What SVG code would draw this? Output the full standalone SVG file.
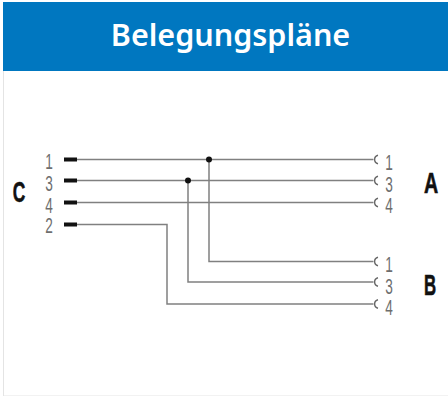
<svg xmlns="http://www.w3.org/2000/svg" width="448" height="396" viewBox="0 0 448 396">
<style>
.w{fill:none;stroke:#808080;stroke-width:1.5}
.p{stroke:#111;stroke-width:4}
.s{fill:none;stroke:#666;stroke-width:1.4}
.d{fill:#111}
.n{font-family:"Liberation Sans",sans-serif;font-size:22px;fill:#6e6e6e;text-anchor:middle}
.l{font-family:"Liberation Sans",sans-serif;font-size:29px;font-weight:bold;fill:#111;stroke:#111;stroke-width:.6;text-anchor:middle}
</style>
<rect width="448" height="396" fill="#fff"/>
<path d="M3.500 71V396H448" fill="none" stroke="#e4e4e4" stroke-width="1"/>
<g id="header">
<rect x="3" y="2" width="445" height="69" fill="#0077c0"/>
<text x="230.500" y="46" font-family="'Noto Sans',sans-serif" font-size="30.500" font-weight="600" fill="#fff" text-anchor="middle">Belegungspläne</text>
</g>
<g id="connectors">
<path class="w" d="M77 159.500H373.500"/>
<path class="w" d="M77 180.500H373.500"/>
<path class="w" d="M77 202.500H373.500"/>
<path class="w" d="M77 224.500H167V304H373.500"/>
<path class="w" d="M209 159.500V261.500H373.500"/>
<path class="w" d="M188 180.500V282H373.500"/>
<circle class="d" cx="209" cy="159.500" r="3"/>
<circle class="d" cx="188" cy="180.500" r="3"/>
</g>
<g id="C">
<text class="l" transform="translate(19 201.500) scale(.6 1)">C</text>
<text class="n" transform="translate(49 169) scale(.62 1)">1</text>
<text class="n" transform="translate(49 191) scale(.62 1)">3</text>
<text class="n" transform="translate(49 212.500) scale(.62 1)">4</text>
<text class="n" transform="translate(49 233) scale(.62 1)">2</text>
<path class="p" d="M64 159.500H77M64 180.500H77M64 202.500H77M64 224.500H77"/>
</g>
<g id="A">
<text class="l" transform="translate(431 192.500) scale(.68 1)">A</text>
<path class="s" d="M378 155.300A4.300 4.300 0 0 0 378 163.700M378 176.300A4.300 4.300 0 0 0 378 184.700M378 198.300A4.300 4.300 0 0 0 378 206.700"/>
<text class="n" transform="translate(389 170) scale(.62 1)">1</text>
<text class="n" transform="translate(389 192) scale(.62 1)">3</text>
<text class="n" transform="translate(389 213) scale(.62 1)">4</text>
</g>
<g id="B">
<text class="l" transform="translate(430 294.500) scale(.58 1)">B</text>
<path class="s" d="M378 257.300A4.300 4.300 0 0 0 378 265.700M378 277.800A4.300 4.300 0 0 0 378 286.200M378 299.800A4.300 4.300 0 0 0 378 308.200"/>
<text class="n" transform="translate(389 272) scale(.62 1)">1</text>
<text class="n" transform="translate(389 294) scale(.62 1)">3</text>
<text class="n" transform="translate(389 315) scale(.62 1)">4</text>
</g>
</svg>
